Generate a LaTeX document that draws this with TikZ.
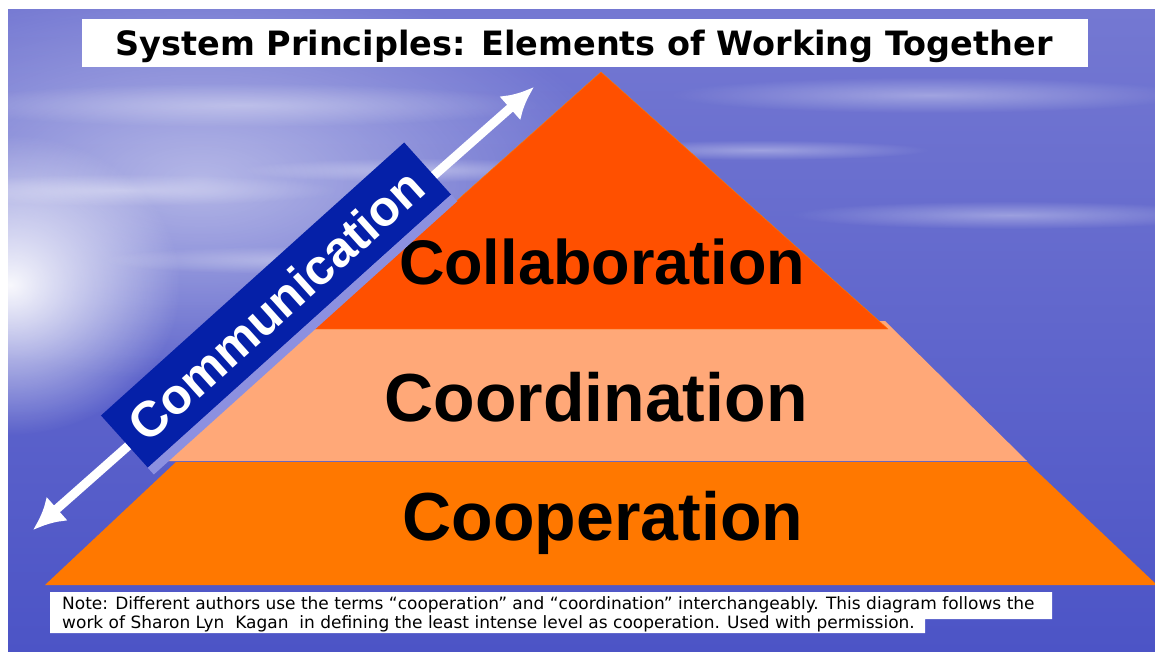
\documentclass[tikz,border=0pt]{standalone}
\usepackage{fontspec}
\setmainfont{Liberation Sans}
\newfontfamily\notefont{DejaVu Sans}
\usetikzlibrary{arrows.meta,fadings,positioning,calc}

\definecolor{skytop}{HTML}{7478D2}
\definecolor{skymid}{HTML}{9A9DE0}
\definecolor{seablue}{HTML}{4C54C6}
\definecolor{collabred}{HTML}{FF5000}
\definecolor{coordpeach}{HTML}{FFA878}
\definecolor{cooporange}{HTML}{FF7800}
\definecolor{bannerblue}{HTML}{0520A8}
\definecolor{bandblue}{HTML}{8C90E0}

\tikzfading[name=glow, inner color=transparent!0, outer color=transparent!100]

\begin{document}
\begin{tikzpicture}[x=1pt,y=-1pt,
  tier/.style={font=\fontsize{68}{68}\selectfont\bfseries, text=black},
  notetext/.style={anchor=west, inner sep=0pt, font=\notefont\fontsize{17}{17}\selectfont},
  haze/.style={white, path fading=glow}]
\useasboundingbox (0,0) rectangle (1155,652);
\fill[white] (0,0) rectangle (1155,652);

% sky and sea
\shade[top color=skytop, middle color=skymid, bottom color=seablue] (8,10) rectangle (1155,652);
\begin{scope}
\clip (8,10) rectangle (1155,652);
\fill[haze, opacity=.5] (200,180) ellipse [x radius=420, y radius=200];
\fill[haze, opacity=.95] (10,285) ellipse [x radius=170, y radius=150];
\foreach \cx/\cy/\rx/\ry in {240/105/300/22, 120/190/220/16, 420/170/180/12,
  930/95/260/18, 1010/215/220/14, 760/150/170/10, 300/260/200/14}
  \fill[haze, opacity=.35] (\cx,\cy) ellipse [x radius=\rx, y radius=\ry];
\end{scope}

% title
\fill[white] (82,19) rectangle (1088,67);
\node[font=\notefont\bfseries\fontsize{33.5}{34}\selectfont] (title) at (584,46)
  {System Principles: Elements of Working Together};

% pyramid, bottom tier first
\fill[cooporange] (45,585) -- (1157,585) -- (1027,462) -- (176,462) -- cycle;
\fill[coordpeach] (162,461) -- (1027,461) -- (885,321) -- (320,321) -- cycle;
\filldraw[fill=collabred, draw=cooporange, line join=round] (601,72) -- (888,329) -- (313,329) -- cycle;

\node[tier, font=\fontsize{63}{63}\selectfont\bfseries] (collab) at (602,262) {Collaboration};
\node[tier] (coord) at (596,397) {Coordination};
\node[tier] (coop) at (603,523) {Cooperation};

% communication arrow and banner
\coordinate (commlow) at (33,530);
\coordinate (commhigh) at (534,87);
\draw[white, line width=9pt,
  {Latex[length=32pt,width=32pt]}-{Latex[length=32pt,width=32pt]}] (commlow) -- (commhigh);
\node[fill=bannerblue, rotate=42, minimum width=408pt, minimum height=70pt,
  text=white, font=\fontsize{50}{50}\selectfont\bfseries] (comm) at (276,305) {Communication};
\fill[bandblue] (comm.south west) -- (comm.south east)
  -- ($(comm.south east)!9pt!90:(comm.south west)$)
  -- ($(comm.south west)!9pt!-90:(comm.south east)$) -- cycle;

% note
\fill[white] (50,592) -- (1052,592) -- (1052,619) -- (925,619) -- (925,633) -- (50,633) -- cycle;
\node[notetext] (note1) at (62,605)
  {Note: Different authors use the terms “cooperation” and “coordination” interchangeably. This diagram follows the};
\node[notetext] (note2) at (62,624)
  {work of Sharon Lyn \ Kagan \ in defining the least intense level as cooperation. Used with permission.};
\end{tikzpicture}
\end{document}
